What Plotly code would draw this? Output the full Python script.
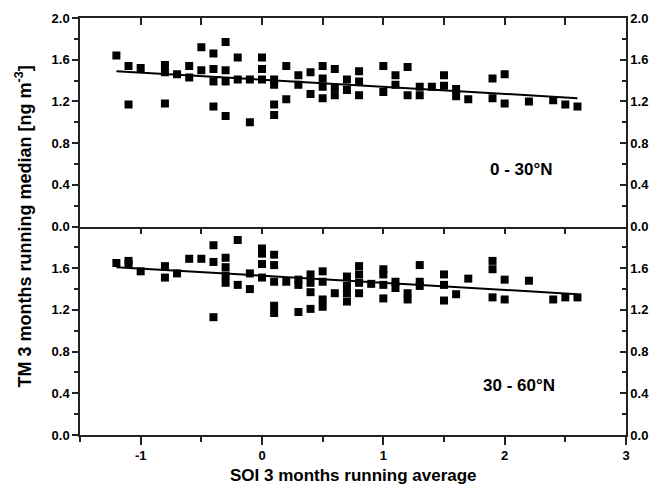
import plotly.graph_objects as go

# ---------- data ----------
x_top = [-1.2, -1.1, -1.1, -1.0, -0.8, -0.8, -0.8, -0.7, -0.6, -0.6,
         -0.5, -0.5, -0.4, -0.4, -0.4, -0.4, -0.3, -0.3, -0.3, -0.3,
         -0.2, -0.2, -0.1, -0.1, 0.0, 0.0, 0.0, 0.1, 0.1, 0.1, 0.1,
         0.2, 0.2, 0.3, 0.3, 0.4, 0.4, 0.5, 0.5, 0.5, 0.5,
         0.6, 0.6, 0.6, 0.7, 0.7, 0.8, 0.8, 0.8, 1.0, 1.0,
         1.1, 1.1, 1.2, 1.2, 1.3, 1.3, 1.4, 1.5, 1.5, 1.6, 1.6,
         1.7, 1.9, 1.9, 2.0, 2.0, 2.2, 2.4, 2.5, 2.6]
y_top = [1.64, 1.54, 1.17, 1.52, 1.55, 1.48, 1.18, 1.46, 1.54, 1.43,
         1.72, 1.50, 1.66, 1.51, 1.39, 1.15, 1.77, 1.50, 1.39, 1.06,
         1.62, 1.41, 1.41, 1.00, 1.62, 1.51, 1.41, 1.41, 1.36, 1.17, 1.07,
         1.54, 1.22, 1.45, 1.36, 1.48, 1.27, 1.54, 1.42, 1.34, 1.23,
         1.51, 1.33, 1.26, 1.41, 1.31, 1.49, 1.39, 1.26, 1.54, 1.29,
         1.45, 1.36, 1.53, 1.26, 1.34, 1.26, 1.34, 1.45, 1.35, 1.32, 1.25,
         1.22, 1.42, 1.23, 1.46, 1.18, 1.20, 1.21, 1.17, 1.15]

x_bot = [-1.2, -1.1, -1.1, -1.0, -0.8, -0.8, -0.7, -0.6, -0.5,
         -0.4, -0.4, -0.4, -0.3, -0.3, -0.3, -0.3, -0.2, -0.2, -0.1, -0.1,
         0.0, 0.0, 0.0, 0.0, 0.1, 0.1, 0.1, 0.1, 0.1, 0.2,
         0.3, 0.3, 0.3, 0.4, 0.4, 0.4, 0.4, 0.5, 0.5, 0.5, 0.5, 0.6,
         0.7, 0.7, 0.7, 0.7, 0.8, 0.8, 0.8, 0.8, 0.9,
         1.0, 1.0, 1.0, 1.0, 1.1, 1.1, 1.2, 1.2, 1.3, 1.3, 1.3,
         1.5, 1.5, 1.5, 1.6, 1.7, 1.9, 1.9, 1.9, 2.0, 2.0,
         2.2, 2.4, 2.5, 2.6]
y_bot = [1.65, 1.67, 1.64, 1.57, 1.62, 1.51, 1.55, 1.69, 1.69,
         1.82, 1.66, 1.13, 1.70, 1.61, 1.53, 1.46, 1.87, 1.44, 1.55, 1.40,
         1.79, 1.74, 1.64, 1.51, 1.73, 1.63, 1.47, 1.24, 1.17, 1.47,
         1.49, 1.44, 1.18, 1.54, 1.46, 1.37, 1.21, 1.57, 1.47, 1.30, 1.23, 1.36,
         1.52, 1.43, 1.36, 1.28, 1.62, 1.54, 1.46, 1.36, 1.45,
         1.59, 1.54, 1.44, 1.31, 1.47, 1.41, 1.36, 1.30, 1.63, 1.47, 1.43,
         1.54, 1.44, 1.29, 1.35, 1.50, 1.67, 1.59, 1.32, 1.49, 1.30,
         1.48, 1.30, 1.32, 1.32]

# linear fits (as drawn in the picture)
top_intercept, top_slope = 1.408, -0.068
bot_intercept, bot_slope = 1.528, -0.068

panel_labels = ["0 - 30°N", "30 - 60°N"]
y_ticks_top = [0.0, 0.4, 0.8, 1.2, 1.6, 2.0]
y_ticks_bot = [0.0, 0.4, 0.8, 1.2, 1.6]
x_ticks = [-1, 0, 1, 2, 3]

# ---------- figure ----------
FONT = "Liberation Sans, Arial, sans-serif"
AX = "#222222"

fig = go.Figure()

def fit_line(xs, b0, b1):
    x0, x1 = min(xs), max(xs)
    return [x0, x1], [b0 + b1 * x0, b0 + b1 * x1]

for xs, ys, b0, b1, xa, ya in [(x_top, y_top, top_intercept, top_slope, "x", "y"),
                                (x_bot, y_bot, bot_intercept, bot_slope, "x2", "y2")]:
    fig.add_trace(go.Scatter(x=xs, y=ys, mode="markers", xaxis=xa, yaxis=ya,
                             marker=dict(symbol="square", size=8, color="black",
                                         line=dict(width=0)),
                             showlegend=False, hoverinfo="x+y"))
    lx, ly = fit_line(xs, b0, b1)
    fig.add_trace(go.Scatter(x=lx, y=ly, mode="lines", xaxis=xa, yaxis=ya,
                             line=dict(color="black", width=2), showlegend=False))

# invisible helper traces so the extra (mirror) axes are drawn
for xa, ya in [("x3", "y2"), ("x", "y3"), ("x2", "y4")]:
    fig.add_trace(go.Scatter(x=[0], y=[1], mode="markers", xaxis=xa, yaxis=ya,
                             marker=dict(opacity=0), showlegend=False, hoverinfo="skip"))

tickfont = dict(family=FONT, size=13, color="black", weight="bold")
xrange_ = [-1.5, 3.0]

common_x = dict(range=xrange_, showgrid=False, zeroline=False, linecolor=AX,
                linewidth=1.5, tickcolor=AX, tickwidth=1.5, automargin=False,
                tickmode="array", tickvals=x_ticks, ticktext=[str(v) for v in x_ticks])

def y_axis(ticks_list, side, ticks):
    return dict(range=[0, 2], showgrid=False, zeroline=False, linecolor=AX,
                linewidth=1.5, tickcolor=AX, tickwidth=1.5, ticklen=6,
                tickfont=tickfont, automargin=False, side=side, ticks=ticks,
                tickmode="array", tickvals=ticks_list,
                ticktext=[f"{v:.1f}" for v in ticks_list], showline=True,
                minor=dict(tickmode="linear", dtick=0.2, tick0=0, ticks=ticks,
                           ticklen=4, tickcolor=AX, tickwidth=1.5))

fig.update_layout(
    width=654, height=487,
    margin=dict(l=80, r=28, t=18, b=52),
    plot_bgcolor="white", paper_bgcolor="white",
    font=dict(family=FONT, color="black"),
    xaxis=dict(common_x, anchor="y", domain=[0, 1], side="top", ticks="inside",
               ticklen=7, showticklabels=False, showline=True, mirror=True,
               minor=dict(tickmode="linear", dtick=0.5, tick0=-1.5, ticks="inside",
                          ticklen=7, tickcolor=AX, tickwidth=1.5)),
    xaxis2=dict(common_x, anchor="y2", domain=[0, 1], side="bottom", ticks="outside",
                ticklen=8, tickfont=tickfont, showline=True, mirror=False,
                minor=dict(tickmode="linear", dtick=0.5, tick0=-1.5, ticks="outside",
                           ticklen=5, tickcolor=AX, tickwidth=1.5)),
    xaxis3=dict(common_x, overlaying="x2", anchor="y2", side="top", ticks="inside",
                ticklen=7, showticklabels=False, showline=False,
                minor=dict(tickmode="linear", dtick=0.5, tick0=-1.5, ticks="inside",
                           ticklen=7, tickcolor=AX, tickwidth=1.5)),
    yaxis=dict(y_axis(y_ticks_top, "left", "outside"), anchor="x", domain=[0.5, 1]),
    yaxis2=dict(y_axis(y_ticks_bot, "left", "outside"), anchor="x2", domain=[0, 0.5]),
    yaxis3=dict(y_axis(y_ticks_top, "right", "inside"), overlaying="y", anchor="x"),
    yaxis4=dict(y_axis(y_ticks_bot, "right", "inside"), overlaying="y2", anchor="x2"),
)

labfont = dict(family=FONT, size=18, color="black", weight="bold")
fig.add_annotation(text="TM 3 months running median [ng m<sup>-3</sup>]",
                   xref="paper", yref="paper", x=-0.1026, y=0.5, xanchor="center",
                   yanchor="middle", textangle=-90, showarrow=False, font=labfont)
fig.add_annotation(text="SOI 3 months running average",
                   xref="paper", yref="paper", x=0.5, y=-0.096, xanchor="center",
                   yanchor="middle", showarrow=False,
                   font=dict(labfont, size=17))
panel_font = dict(family=FONT, size=17, color="black", weight="bold")
fig.add_annotation(text=panel_labels[0], xref="x", yref="y", x=2.14, y=0.55,
                   showarrow=False, font=panel_font)
fig.add_annotation(text=panel_labels[1], xref="x2", yref="y2", x=2.115, y=0.476,
                   showarrow=False, font=panel_font)

fig.write_html("out.html", config={"displayModeBar": False},
               post_script="document.body.style.margin='0';"
                           "document.body.style.overflow='hidden';")
